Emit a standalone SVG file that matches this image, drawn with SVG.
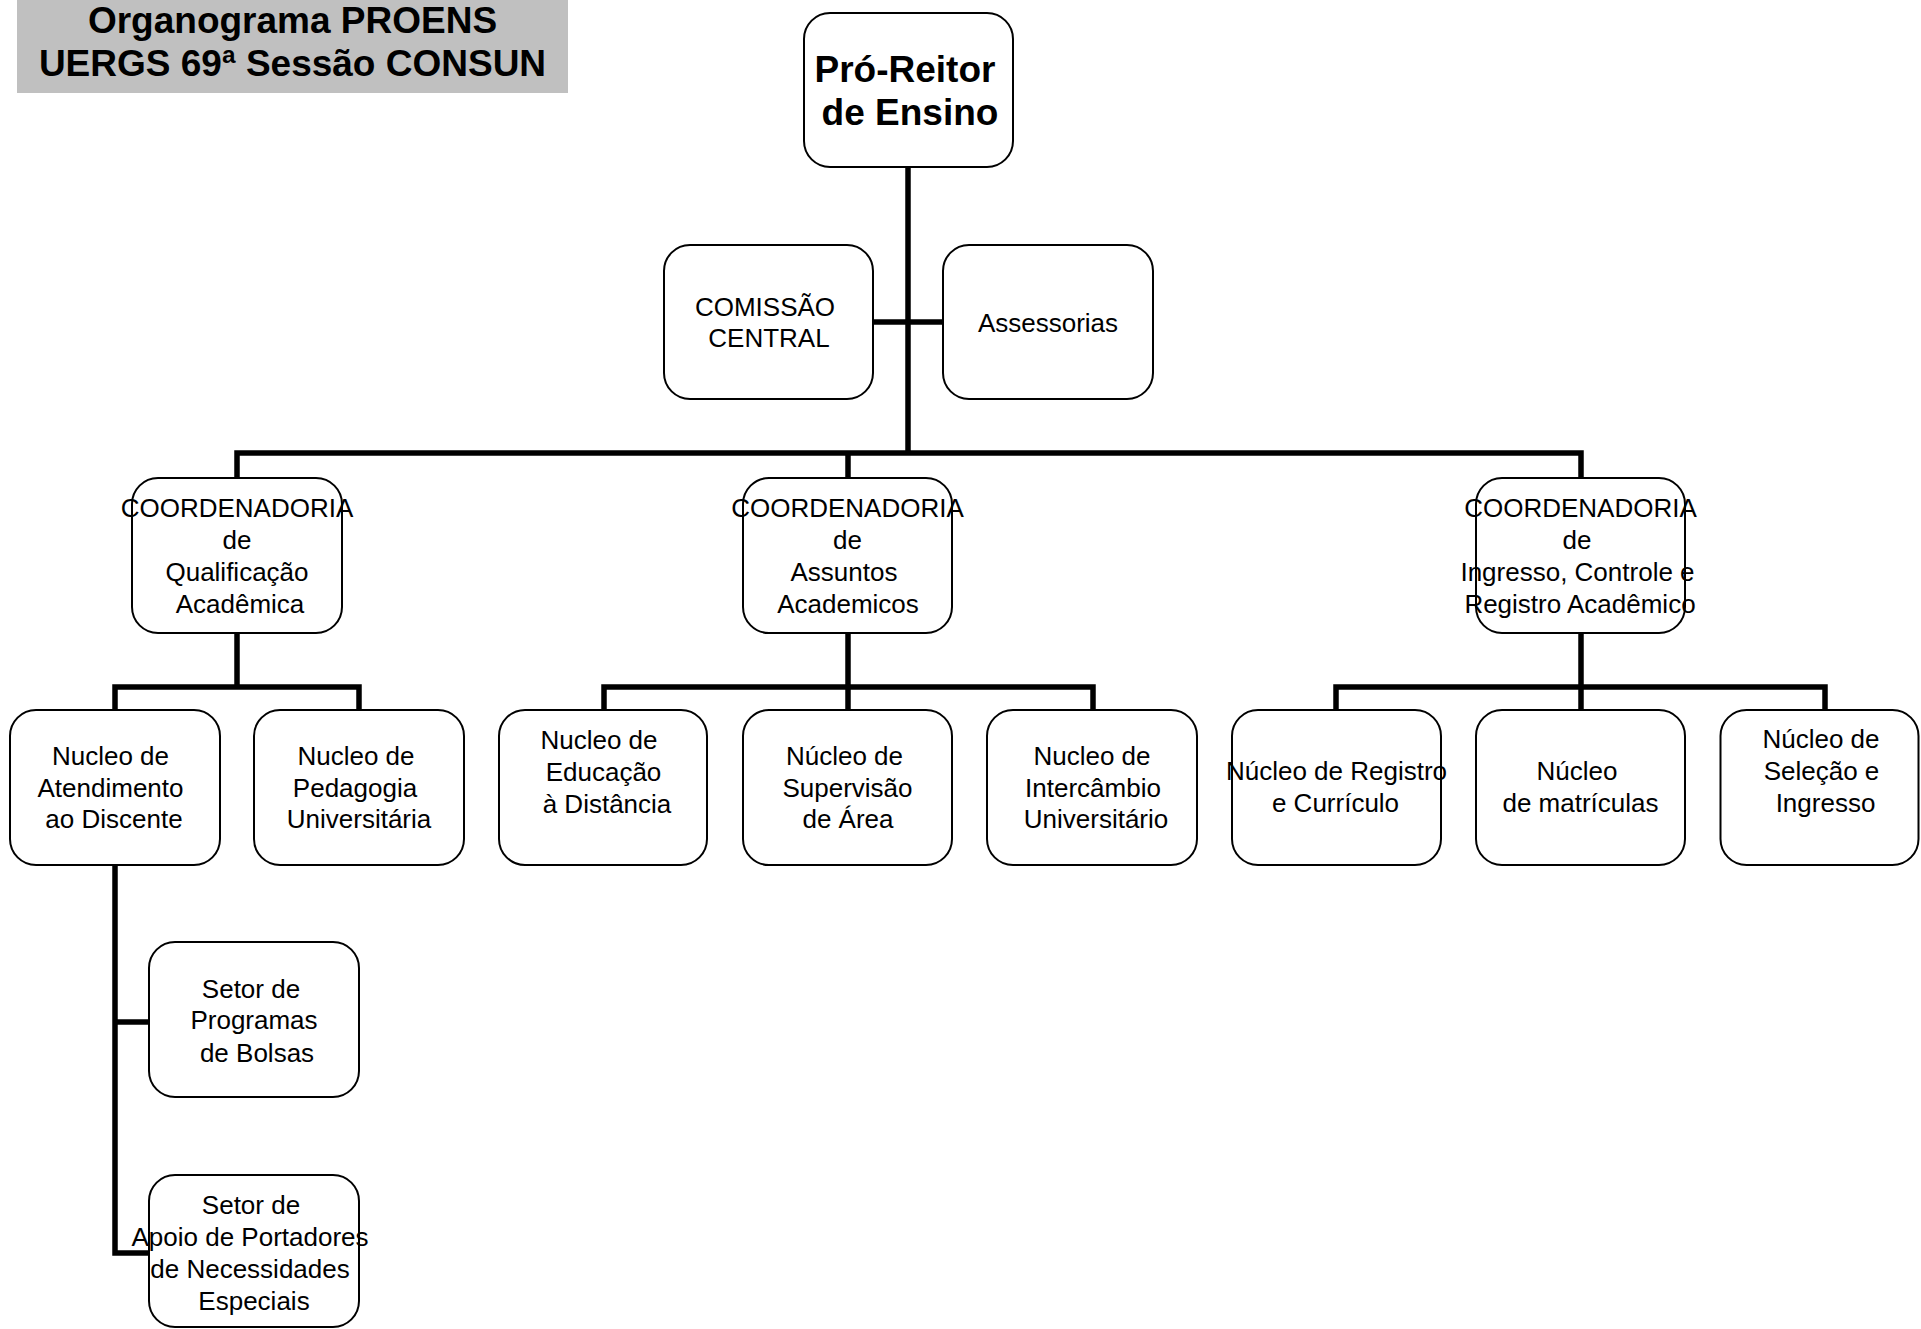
<svg xmlns="http://www.w3.org/2000/svg" width="1921" height="1329" viewBox="0 0 1921 1329">
<style>
.box{fill:#fff;stroke:#000;stroke-width:2}
.t{font-family:"Liberation Sans",Arial,sans-serif;font-size:26px;fill:#000;text-anchor:middle}
.b{font-family:"Liberation Sans",Arial,sans-serif;font-size:37px;font-weight:bold;fill:#000;text-anchor:middle}
.c{fill:none;stroke:#000;stroke-width:5.5;stroke-linejoin:miter;stroke-linecap:butt}
</style>
<rect width="1921" height="1329" fill="#fff"/>
<g id="title">
<rect x="17" y="0" width="551" height="93" fill="#c0c0c0"/>
<text class="b" x="292.5" y="33">Organograma PROENS</text>
<text class="b" x="292.5" y="76">UERGS 69ª Sessão CONSUN</text>
</g>
<g id="connectors" class="c">
<path d="M908,167 V453"/>
<path d="M873,322 H943"/>
<path d="M237,478 V453 H1581 V478"/>
<path d="M848,453 V478"/>
<path d="M237,633 V687"/>
<path d="M115,710 V687 H359 V710"/>
<path d="M848,633 V710"/>
<path d="M604,710 V687 H1093 V710"/>
<path d="M1581,633 V710"/>
<path d="M1336,710 V687 H1825 V710"/>
<path d="M115,865 V1253 H149"/>
<path d="M115,1022 H149"/>
</g>
<g id="pro-reitor">
<rect class="box" x="804" y="13" width="209" height="154" rx="26"/>
<text class="b" x="905" y="82">Pró-Reitor</text>
<text class="b" x="910" y="125">de Ensino</text>
</g>
<g id="comissao">
<rect class="box" x="664" y="245" width="209" height="154" rx="26"/>
<text class="t" x="765" y="316">COMISSÃO</text>
<text class="t" x="769" y="347">CENTRAL</text>
</g>
<g id="assessorias">
<rect class="box" x="943" y="245" width="210" height="154" rx="26"/>
<text class="t" x="1048" y="332">Assessorias</text>
</g>
<g id="coord-qualificacao">
<rect class="box" x="132" y="478" width="210" height="155" rx="26"/>
<text class="t" x="237" y="517">COORDENADORIA</text>
<text class="t" x="237" y="549">de</text>
<text class="t" x="237" y="581">Qualificação</text>
<text class="t" x="240" y="613">Acadêmica</text>
</g>
<g id="coord-assuntos">
<rect class="box" x="743" y="478" width="209" height="155" rx="26"/>
<text class="t" x="847.5" y="517">COORDENADORIA</text>
<text class="t" x="847.5" y="549">de</text>
<text class="t" x="844" y="581">Assuntos</text>
<text class="t" x="848" y="613">Academicos</text>
</g>
<g id="coord-ingresso">
<rect class="box" x="1476" y="478" width="209" height="155" rx="26"/>
<text class="t" x="1580.5" y="517">COORDENADORIA</text>
<text class="t" x="1577" y="549">de</text>
<text class="t" x="1577.5" y="581">Ingresso, Controle e</text>
<text class="t" x="1580" y="613">Registro Acadêmico</text>
</g>
<g id="nucleo-atendimento">
<rect class="box" x="10" y="710" width="210" height="155" rx="26"/>
<text class="t" x="110.5" y="765">Nucleo de</text>
<text class="t" x="110.5" y="797">Atendimento</text>
<text class="t" x="114" y="828">ao Discente</text>
</g>
<g id="nucleo-pedagogia">
<rect class="box" x="254" y="710" width="210" height="155" rx="26"/>
<text class="t" x="356" y="765">Nucleo de</text>
<text class="t" x="355" y="797">Pedagogia</text>
<text class="t" x="359" y="828">Universitária</text>
</g>
<g id="nucleo-ead">
<rect class="box" x="499" y="710" width="208" height="155" rx="26"/>
<text class="t" x="599" y="749">Nucleo de</text>
<text class="t" x="603.5" y="781">Educação</text>
<text class="t" x="607" y="813">à Distância</text>
</g>
<g id="nucleo-supervisao">
<rect class="box" x="743" y="710" width="209" height="155" rx="26"/>
<text class="t" x="844.5" y="765">Núcleo de</text>
<text class="t" x="847.5" y="797">Supervisão</text>
<text class="t" x="848" y="828">de Área</text>
</g>
<g id="nucleo-intercambio">
<rect class="box" x="987" y="710" width="210" height="155" rx="26"/>
<text class="t" x="1092" y="765">Nucleo de</text>
<text class="t" x="1093" y="797">Intercâmbio</text>
<text class="t" x="1096" y="828">Universitário</text>
</g>
<g id="nucleo-registro">
<rect class="box" x="1232" y="710" width="209" height="155" rx="26"/>
<text class="t" x="1336.5" y="780">Núcleo de Registro</text>
<text class="t" x="1335.5" y="812">e Currículo</text>
</g>
<g id="nucleo-matriculas">
<rect class="box" x="1476" y="710" width="209" height="155" rx="26"/>
<text class="t" x="1577" y="780">Núcleo</text>
<text class="t" x="1580.5" y="812">de matrículas</text>
</g>
<g id="nucleo-selecao">
<rect class="box" x="1720.5" y="710" width="198" height="155" rx="26"/>
<text class="t" x="1821" y="748">Núcleo de</text>
<text class="t" x="1821.5" y="780">Seleção e</text>
<text class="t" x="1825.5" y="812">Ingresso</text>
</g>
<g id="setor-bolsas">
<rect class="box" x="149" y="942" width="210" height="155" rx="26"/>
<text class="t" x="251" y="998">Setor de</text>
<text class="t" x="254" y="1029">Programas</text>
<text class="t" x="257" y="1062">de Bolsas</text>
</g>
<g id="setor-apoio">
<rect class="box" x="149" y="1175" width="210" height="152" rx="26"/>
<text class="t" x="251" y="1214">Setor de</text>
<text class="t" x="250" y="1246">Apoio de Portadores</text>
<text class="t" x="250" y="1278">de Necessidades</text>
<text class="t" x="254" y="1310">Especiais</text>
</g>
</svg>
